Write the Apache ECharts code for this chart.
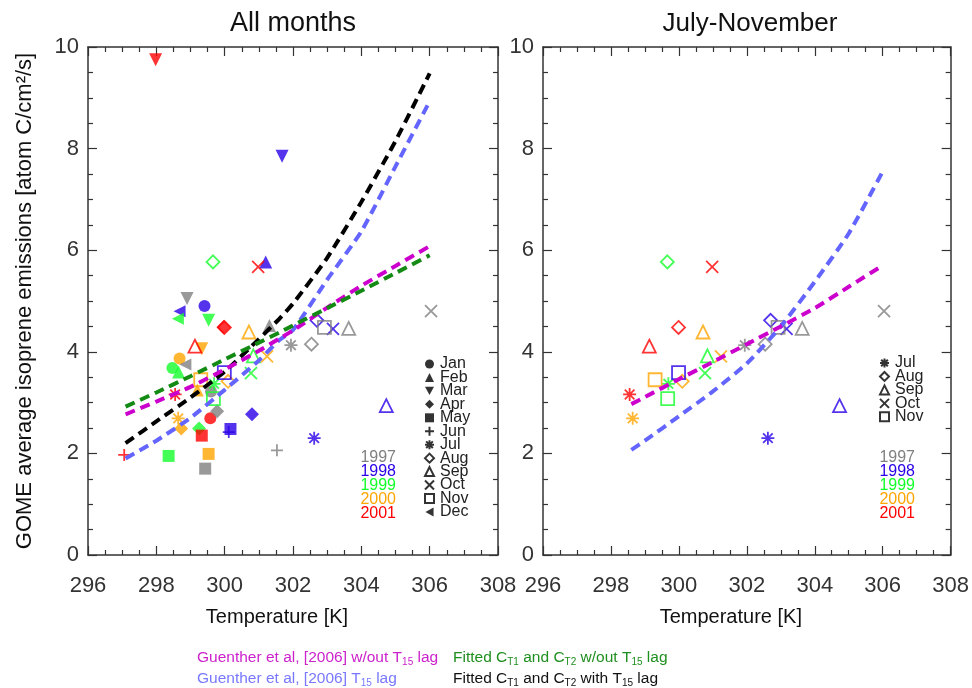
<!DOCTYPE html>
<html><head><meta charset="utf-8">
<script src="https://cdn.jsdelivr.net/npm/echarts@6/dist/echarts.min.js"></script>
<style>html,body{margin:0;padding:0;background:#fff}#c{width:972px;height:688px}</style>
</head><body><div id="c"></div>
<script>
// ---------------- data ----------------
const years = ['1997', '1998', '1999', '2000', '2001'];
const monthNames = ['Jan','Feb','Mar','Apr','May','Jun','Jul','Aug','Sep','Oct','Nov','Dec'];
// each month: one [temperature K, emission] per year (1997..2001), null = missing
const jan = [[299.60,3.22],[299.41,4.90],[298.47,3.68],[298.68,3.87],[299.58,2.69]];
const feb = [[301.31,4.52],[301.20,5.77],[298.65,3.60],[299.20,3.25],null];
const mar = [[298.90,5.05],[301.68,7.85],[299.53,4.62],[299.33,4.06],[297.98,9.75]];
const apr = [[299.78,2.83],[300.80,2.77],[299.25,2.49],[298.73,2.49],[299.97,4.49]];
const may = [[299.43,1.70],[300.17,2.48],[298.36,1.95],[299.53,1.99],[299.33,2.35]];
const jun = [[301.53,2.06],[300.12,2.42],null,null,[297.06,1.97]];
const jul = [[301.94,4.13],[302.62,2.30],[299.69,3.37],[298.64,2.69],[298.55,3.16]];
const aug = [[302.54,4.15],[302.70,4.62],[299.66,5.77],[300.10,3.42],[299.99,4.48]];
const sep = [[303.63,4.46],[304.73,2.94],[300.84,3.92],[300.71,4.39],[299.13,4.11]];
const oct = [[306.04,4.80],[303.17,4.45],[300.77,3.58],[301.24,3.91],[300.98,5.67]];
const nov = [[302.92,4.48],[299.99,3.59],[299.67,3.08],[299.30,3.45],null];
const dec = [[298.85,3.75],[298.68,4.80],[298.63,4.65],null,null];

// model curves, all months panel
const tAll = [297.1, 298, 299, 300, 301, 301.6, 302, 303, 304, 305, 306];
const guentherNoLag = [2.77, 3.02, 3.31, 3.65, 4.02, 4.26, 4.42, 4.87, 5.30, 5.69, 6.08];
const guentherLag   = [1.90, 2.25, 2.70, 3.25, 3.83, 4.23, 4.43, 5.42, 6.37, 7.65, 8.93];
const fittedNoLag   = [2.92, 3.20, 3.52, 3.85, 4.18, 4.38, 4.52, 4.86, 5.20, 5.55, 5.90];
const fittedLag     = [2.20, 2.63, 3.10, 3.61, 4.25, 4.65, 4.95, 5.85, 6.95, 8.15, 9.48];
// model curves, July-November panel
const tJN = [298.6, 299, 300, 301, 302, 303, 304, 305, 306];
const guentherNoLagJN = [2.97, 3.11, 3.46, 3.80, 4.15, 4.50, 4.86, 5.28, 5.70];
const guentherLagJN   = [2.07, 2.25, 2.73, 3.22, 3.77, 4.50, 5.38, 6.33, 7.55];

const xTicks = [296, 308, 2];
const yTicks = [0, 10, 2];

// ---------------- styles ----------------
const FONT = '"Liberation Sans", Arial, Helvetica, sans-serif';
const yearColors = ['#808080', '#2a00e8', '#14ff2a', '#ffa500', '#ff0000'];
const AX = '#333';
const P_PLUS = 'path://M5,0L5,10M0,5L10,5';
const P_X = 'path://M0,0L10,10M10,0L0,10';
const P_AST = 'path://M5,0L5,10M0,5L10,5M1.3,1.3L8.7,8.7M8.7,1.3L1.3,8.7';
const P_TDOWN = 'path://M0,0L10,0L5,9Z';
const P_TLEFT = 'path://M9,0L9,10L0,5Z';
const monthData = [jan, feb, mar, apr, may, jun, jul, aug, sep, oct, nov, dec];
// symbol, size, filled?
const monthSym = [
  ['circle', 12, true], ['triangle', 13, true], [P_TDOWN, 13, true],
  ['diamond', 14, true], ['rect', 12, true], [P_PLUS, 12, false],
  [P_AST, 13, false], ['diamond', 13, false], ['triangle', 13, false],
  [P_X, 12, false], ['rect', 13, false], [P_TLEFT, 12, true]
];

function scatterSeries(mi, grid) {
  const [sym, size, filled] = monthSym[mi];
  const data = [];
  monthData[mi].forEach((p, yi) => {
    if (!p) return;
    data.push({
      value: p,
      itemStyle: filled ? { color: yearColors[yi] } :
        { color: 'rgba(0,0,0,0)', borderColor: yearColors[yi], borderWidth: 1.8 }
    });
  });
  return {
    type: 'scatter', name: monthNames[mi], xAxisIndex: grid * 2, yAxisIndex: grid * 2,
    symbol: sym, symbolSize: size, data: data, z: 3,
    itemStyle: filled ? { color: '#000' } :
      { color: 'rgba(0,0,0,0)', borderColor: '#000', borderWidth: 1.3 },
    emphasis: { disabled: true }
  };
}
function lineSeries(name, ts, vals, color, grid) {
  return {
    type: 'line', name: name, xAxisIndex: grid * 2, yAxisIndex: grid * 2,
    data: ts.map((t, i) => [t, vals[i]]), showSymbol: false, smooth: 0.2, z: 5,
    lineStyle: { color: color, width: 4, type: [10, 6] }, emphasis: { disabled: true }
  };
}
function xAx(grid, pos, labels, name) {
  return {
    type: 'value', gridIndex: grid, position: pos, min: xTicks[0], max: xTicks[1], interval: xTicks[2],
    axisLine: { show: true, onZero: false, lineStyle: { color: AX, width: 1.5 } },
    axisTick: { show: true, inside: true, length: 9, lineStyle: { color: AX, width: 1.2 } },
    minorTick: { show: true, splitNumber: 4, length: 5, lineStyle: { color: AX, width: 1.2 } },
    splitLine: { show: false }, minorSplitLine: { show: false },
    axisLabel: { show: labels, margin: 20, fontSize: 22, color: '#333', fontFamily: FONT },
    name: name || '', nameLocation: 'middle', nameGap: 52,
    nameTextStyle: { fontSize: 20, color: '#111', fontFamily: FONT, padding: [0, 32, 0, 0] }
  };
}
function yAx(grid, pos, labels, name) {
  return {
    type: 'value', gridIndex: grid, position: pos, min: yTicks[0], max: yTicks[1], interval: yTicks[2],
    axisLine: { show: true, onZero: false, lineStyle: { color: AX, width: 1.5 } },
    axisTick: { show: true, inside: true, length: 9, lineStyle: { color: AX, width: 1.2 } },
    minorTick: { show: true, splitNumber: 4, length: 5, lineStyle: { color: AX, width: 1.2 } },
    splitLine: { show: false }, minorSplitLine: { show: false },
    axisLabel: { show: labels, margin: 9, fontSize: 22, color: '#333', fontFamily: FONT },
    name: name || '', nameLocation: 'middle', nameGap: 52,
    nameTextStyle: { fontSize: 22, color: '#111', fontFamily: FONT }
  };
}

const series = [];
monthNames.forEach((m, i) => series.push(scatterSeries(i, 0)));
[6, 7, 8, 9, 10].forEach(i => series.push(scatterSeries(i, 1)));
series.push(lineSeries('fitted-lag', tAll, fittedLag, '#000000', 0));
series.push(lineSeries('guenther-lag', tAll, guentherLag, '#6464ff', 0));
series.push(lineSeries('guenther-nolag', tAll, guentherNoLag, '#cc00cc', 0));
series.push(lineSeries('fitted-nolag', tAll, fittedNoLag, '#138a13', 0));
series.push(lineSeries('guenther-lag', tJN, guentherLagJN, '#6464ff', 1));
series.push(lineSeries('guenther-nolag', tJN, guentherNoLagJN, '#cc00cc', 1));

// year labels
const graphics = [];
years.forEach((y, i) => {
  [396, 915].forEach(x => graphics.push({
    type: 'text', x: x, y: 458 + i * 13.9,
    style: { text: y, fill: yearColors[i], font: '16px ' + FONT, align: 'right', verticalAlign: 'middle' }
  }));
});
graphics.push({ type: 'text', x: 293, y: 24, style: { text: 'All months', fill: '#111', font: '27px ' + FONT, align: 'center', verticalAlign: 'middle' } });
graphics.push({ type: 'text', x: 750, y: 24, style: { text: 'July-November', fill: '#111', font: '26px ' + FONT, align: 'center', verticalAlign: 'middle' } });
function legText(x, y, text, color) {
  return {
    type: 'text', x: x, y: y,
    style: {
      text: text, fill: color, font: '15.5px ' + FONT, verticalAlign: 'middle', lineHeight: 18,
      rich: { s: { fontSize: 10, fill: color, fontFamily: FONT, verticalAlign: 'bottom', lineHeight: 12 } }
    }
  };
}
graphics.push(legText(197, 658, 'Guenther et al, [2006] w/out T{s|15} lag', '#cc22cc'));
graphics.push(legText(197, 679, 'Guenther et al, [2006] T{s|15} lag', '#7878ff'));
graphics.push(legText(453, 658, 'Fitted C{s|T1} and C{s|T2} w/out T{s|15} lag', '#1f8f1f'));
graphics.push(legText(453, 679, 'Fitted C{s|T1} and C{s|T2} with T{s|15} lag', '#111111'));

const legendCommon = {
  orient: 'vertical', itemWidth: 9, itemHeight: 9, itemGap: -2.55, padding: 0, selectedMode: false,
  textStyle: { fontSize: 16, lineHeight: 13, color: '#222', fontFamily: FONT, padding: [0, 0, 0, 1] }
};

const option = {
  animation: false,
  backgroundColor: '#fff',
  grid: [
    { left: 88, top: 47, width: 410, height: 508 },
    { left: 543, top: 47, width: 410, height: 508 }
  ],
  xAxis: [
    xAx(0, 'bottom', true, 'Temperature [K]'), xAx(0, 'top', false),
    xAx(1, 'bottom', true, 'Temperature [K]'), xAx(1, 'top', false)
  ],
  yAxis: [
    yAx(0, 'left', true, 'GOME average isoprene emissions [atom C/cm²/s]'), yAx(0, 'right', false),
    yAx(1, 'left', true), yAx(1, 'right', false)
  ],
  legend: [
    Object.assign({}, legendCommon, { data: monthNames, left: 424, top: 356 }),
    Object.assign({}, legendCommon, { data: ['Jul', 'Aug', 'Sep', 'Oct', 'Nov'], left: 879, top: 355 })
  ],
  series: series,
  graphic: graphics
};
const chart = echarts.init(document.getElementById('c'), null, { renderer: 'canvas' });
chart.setOption(option);
</script></body></html>
